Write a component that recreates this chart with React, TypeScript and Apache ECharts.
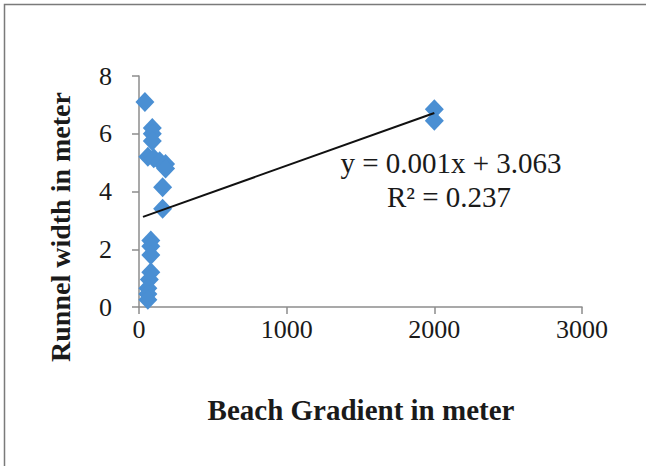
import React, { useEffect, useRef } from "react";
import * as echarts from "echarts";

const gradientX = [40, 90, 90, 90, 60, 100, 140, 180, 180, 160, 160, 80, 80, 80, 80, 70, 60, 60, 60, 2000, 2000];
const runnelY = [7.1, 6.2, 6.0, 5.75, 5.2, 5.15, 5.05, 4.95, 4.8, 4.15, 3.4, 2.3, 2.1, 1.8, 1.2, 0.95, 0.65, 0.45, 0.25, 6.85, 6.45];
const trendX = [27, 2000];
const trendY = [3.12, 6.72];
const equationText = "y = 0.001x + 3.063";
const r2Text = "R² = 0.237";
const xTitle = "Beach Gradient in meter";
const yTitle = "Runnel width in meter";

const FONT = "'Liberation Serif', 'Times New Roman', serif";

export default function App() {
  const ref = useRef<HTMLDivElement>(null);
  useEffect(() => {
    if (!ref.current) return;
    const chart = echarts.init(ref.current, null, { renderer: "svg" });
    const points = gradientX.map((x, i) => [x, runnelY[i]]);
    const trend = trendX.map((x, i) => [x, trendY[i]]);
    chart.setOption({
      animation: false,
      backgroundColor: "#ffffff",
      grid: { left: 139, right: 64, top: 76, bottom: 159, containLabel: false },
      xAxis: {
        type: "value",
        min: 0,
        max: 3000,
        interval: 1000,
        splitLine: { show: false },
        axisLine: { show: true, lineStyle: { color: "#8c8c8c", width: 1.5 } },
        axisTick: { show: true, inside: false, length: 7, lineStyle: { color: "#8c8c8c", width: 1.5 } },
        axisLabel: {
          margin: 9,
          fontSize: 26,
          fontFamily: FONT,
          color: "#1a1a1a",
          formatter: (v: number) => String(v),
        },
      },
      yAxis: {
        type: "value",
        min: 0,
        max: 8,
        interval: 2,
        splitLine: { show: false },
        axisLine: { show: true, lineStyle: { color: "#8c8c8c", width: 1.5 } },
        axisTick: { show: true, inside: false, length: 7, lineStyle: { color: "#8c8c8c", width: 1.5 } },
        axisLabel: { margin: 27, fontSize: 26, fontFamily: FONT, color: "#1a1a1a" },
      },
      series: [
        {
          type: "line",
          data: trend,
          symbol: "none",
          lineStyle: { color: "#111111", width: 2 },
          z: 3,
          silent: true,
        },
        {
          type: "scatter",
          data: points,
          symbol: "diamond",
          symbolSize: [19, 20],
          itemStyle: { color: "#4a8fd3", opacity: 1 },
          z: 2,
        },
      ],
      graphic: [
        {
          type: "rect",
          shape: { x: 4.5, y: 4.5, width: 800, height: 600 },
          style: { fill: "none", stroke: "#7a7a7a", lineWidth: 1.5 },
          silent: true,
          z: -1,
        },
        {
          type: "text",
          x: 451,
          y: 163,
          style: {
            text: equationText,
            font: `29px ${FONT}`,
            fill: "#1a1a1a",
            textAlign: "center",
            textVerticalAlign: "middle",
          },
        },
        {
          type: "text",
          x: 449,
          y: 197,
          style: {
            text: r2Text,
            font: `29px ${FONT}`,
            fill: "#1a1a1a",
            textAlign: "center",
            textVerticalAlign: "middle",
          },
        },
        {
          type: "text",
          x: 361,
          y: 410,
          style: {
            text: xTitle,
            font: `bold 29px ${FONT}`,
            fill: "#1a1a1a",
            textAlign: "center",
            textVerticalAlign: "middle",
          },
        },
        {
          type: "text",
          x: 60,
          y: 227,
          rotation: Math.PI / 2,
          style: {
            text: yTitle,
            font: `bold 28px ${FONT}`,
            fill: "#1a1a1a",
            textAlign: "center",
            textVerticalAlign: "middle",
          },
        },
      ],
    });
    return () => chart.dispose();
  }, []);
  return (
    <div
      ref={ref}
      style={{ position: "fixed", left: 0, top: 0, width: 646, height: 466, background: "#fff" }}
    />
  );
}
